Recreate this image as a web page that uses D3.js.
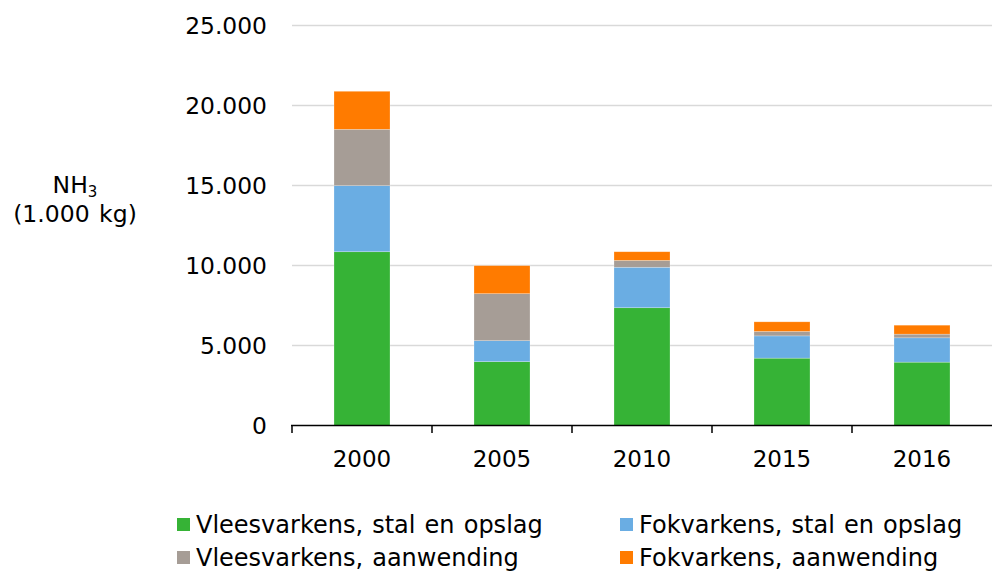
<!DOCTYPE html>
<html><head><meta charset="utf-8">
<script src="https://cdn.jsdelivr.net/npm/d3@7"></script>
<style>body{margin:0;background:#fff}svg{display:block}text{font-family:"DejaVu Sans",Verdana,sans-serif}</style>
</head><body>
<svg id="c" width="992" height="572"></svg>
<script>
const years = ["2000","2005","2010","2015","2016"];
const seriesNames = ["Vleesvarkens, stal en opslag","Fokvarkens, stal en opslag","Vleesvarkens, aanwending","Fokvarkens, aanwending"];
const vleesStal = [10860, 3990, 7360, 4210, 3960];
const fokStal = [4130, 1310, 2530, 1390, 1520];
const vleesAanw = [3520, 2940, 430, 280, 230];
const fokAanw = [2380, 1750, 540, 600, 560];
const yTicks = [0, 5000, 10000, 15000, 20000, 25000];
const colors = ["#36b336", "#6aade3", "#a69d96", "#ff7b00"];

const rows = years.map((y, i) => ({year: y, s0: vleesStal[i], s1: fokStal[i], s2: vleesAanw[i], s3: fokAanw[i]}));
const keys = ["s0","s1","s2","s3"];
const stack = d3.stack().keys(keys)(rows);

const svg = d3.select("#c");
const x = d3.scaleBand().domain(years).range([292, 992]).paddingInner(0.6).paddingOuter(0.3);
const y = d3.scaleLinear().domain([0, 25000]).range([425.5, 25.5]);
const fmt = v => d3.format(",")(v).replace(/,/g, ".");

// gridlines
svg.append("g").selectAll("line").data(yTicks.filter(t => t > 0)).join("line")
  .attr("x1", 292).attr("x2", 992).attr("y1", d => y(d)).attr("y2", d => y(d))
  .attr("stroke", "#d9d9d9").attr("stroke-width", 1.5);

// y labels
svg.append("g").selectAll("text").data(yTicks).join("text")
  .attr("x", 267).attr("y", d => y(d)).attr("dy", "0.36em")
  .attr("text-anchor", "end").attr("font-size", 23.4).attr("fill", "#000")
  .text(fmt);

// bars
svg.append("g").selectAll("g").data(stack).join("g")
  .attr("fill", (d, i) => colors[i])
  .selectAll("rect").data(d => d).join("rect")
  .attr("x", d => x(d.data.year)).attr("width", x.bandwidth())
  .attr("y", d => y(d[1])).attr("height", d => y(d[0]) - y(d[1]))
  .attr("stroke", "#ffffff").attr("stroke-opacity", 0.4).attr("stroke-width", 0.6);

// x axis
const xa = svg.append("g");
xa.append("line").attr("x1", 291).attr("x2", 992).attr("y1", 425.5).attr("y2", 425.5)
  .attr("stroke", "#000").attr("stroke-width", 1.5);
const step = x.step();
xa.selectAll("line.t").data(d3.range(years.length)).join("line").attr("class","t")
  .attr("x1", i => 292 + i * step).attr("x2", i => 292 + i * step)
  .attr("y1", 425.5).attr("y2", 433).attr("stroke", "#000").attr("stroke-width", 1.5);
xa.selectAll("text").data(years).join("text")
  .attr("x", d => x(d) + x.bandwidth() / 2).attr("y", 466.5)
  .attr("text-anchor", "middle").attr("font-size", 23).attr("fill", "#000").text(d => d);

// y title
const yt = svg.append("text").attr("x", 75).attr("y", 192.5).attr("text-anchor", "middle").attr("font-size", 23.5).attr("fill", "#000");
yt.append("tspan").text("NH");
yt.append("tspan").attr("font-size", 15).attr("dy", 4).text("3");
svg.append("text").attr("x", 75).attr("y", 221.5).attr("text-anchor", "middle").attr("font-size", 23.5).attr("word-spacing", 2).attr("fill", "#000").text("(1.000 kg)");

// legend
const legPos = [[177, 524.5], [620, 524.5], [177, 557.5], [620, 557.5]];
const lg = svg.append("g").selectAll("g").data(seriesNames).join("g")
  .attr("transform", (d, i) => `translate(${legPos[i][0]},${legPos[i][1]})`);
lg.append("rect").attr("x", 0).attr("y", -6.5).attr("width", 13).attr("height", 13).attr("fill", (d, i) => colors[i]);
lg.append("text").attr("x", 19).attr("y", 0).attr("dy", "0.35em").attr("font-size", 24).attr("word-spacing", 1.5).attr("fill", "#000").text(d => d);
</script>
</body></html>
